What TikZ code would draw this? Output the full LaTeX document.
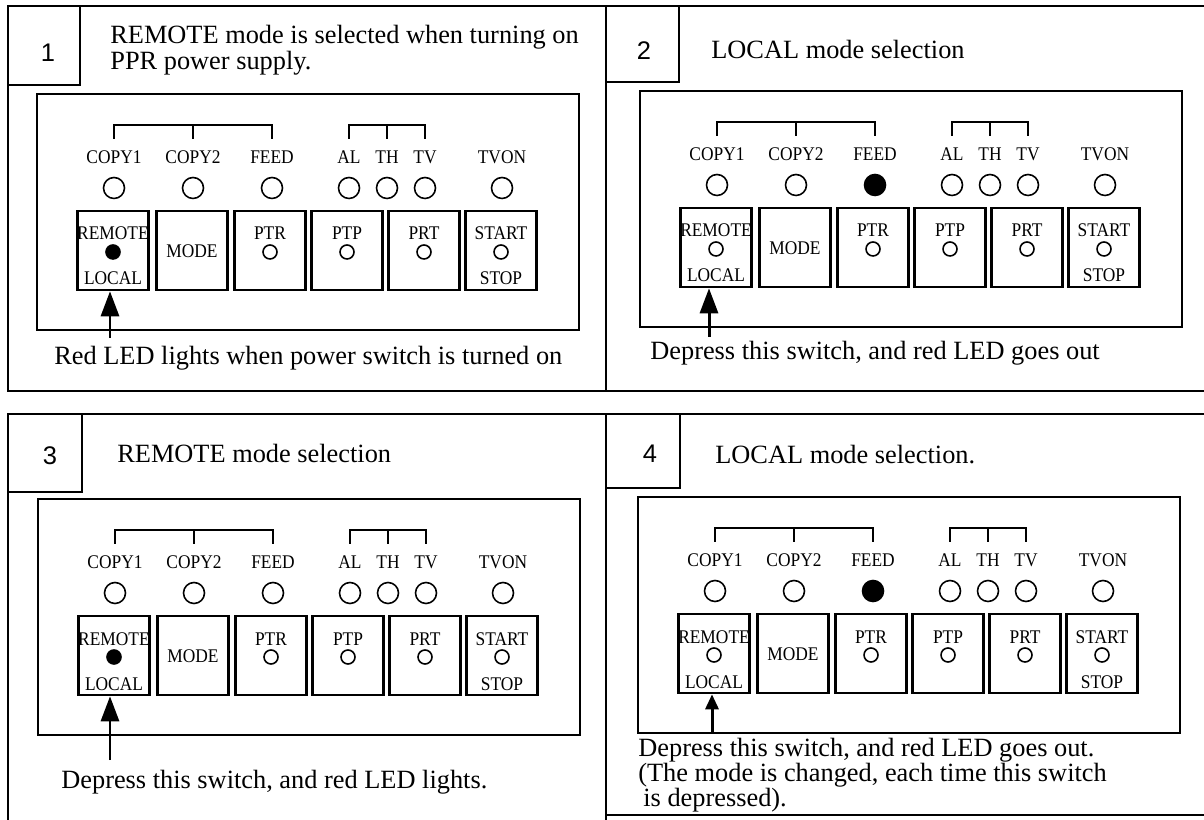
\documentclass[tikz,border=0pt]{standalone}
\usepackage{fontspec}
\setmainfont{Liberation Serif}
\newfontfamily\labfont{Liberation Serif}[FakeStretch=0.9]
\newfontfamily\numfont{Liberation Sans}
\usetikzlibrary{arrows.meta}

% one operator panel; #1 id, (#2,#3) top left corner, #4 REMOTE lamp, #5 FEED lamp
\newcommand{\ppanel}[5]{%
  \begin{scope}[shift={(#2,#3)}]
    % panel outline
    \draw[inbox] (0,0) rectangle (542,236);
    % lamp group brackets
    \draw[brack] (77,45) |- (235,31) -- (235,45);
    \draw[brack] (156,31) -- (156,45);
    \draw[brack] (312,45) |- (388,31) -- (388,45);
    \draw[brack] (350,31) -- (350,45);
    % lamp labels and lamps
    \foreach \px/\lbl in {77/COPY1,156/COPY2,235/FEED,312/AL,350/TH,388/TV,465/TVON}
      \node[lab] at (\px,70) {\lbl};
    \foreach \px in {77,156,312,350,388,465}
      \draw[lamp] (\px,94) circle[radius=0.21cm];
    \draw[lamp,#5] (235,94) circle[radius=0.21cm];
    % switches
    \node[swbox] (rem#1)   at (76,156.5)  {};
    \node[swbox] (mode#1)  at (155,156.5) {};
    \node[swbox] (ptr#1)   at (233,156.5) {};
    \node[swbox] (ptp#1)   at (310,156.5) {};
    \node[swbox] (prt#1)   at (387,156.5) {};
    \node[swbox] (start#1) at (464,156.5) {};
    % switch texts
    \node[lab] at (76,146) {REMOTE};
    \draw[lamp,#4] (76,158) circle[radius=0.14cm];
    \node[lab] at (76,191) {LOCAL};
    \node[lab] at (155,164) {MODE};
    \foreach \px/\lbl in {233/PTR,310/PTP,387/PRT,464/START} {
      \node[lab] at (\px,146) {\lbl};
      \draw[lamp] (\px,158) circle[radius=0.14cm];
    }
    \node[lab] at (464,191) {STOP};
  \end{scope}}

\begin{document}
\begin{tikzpicture}[x=0.02cm, y=-0.02cm,
    frame/.style={line width=1.6pt},
    inbox/.style={line width=1.1pt},
    brack/.style={line width=0.8pt},
    lamp/.style={line width=0.9pt},
    litlamp/.style={fill=black},
    darklamp/.style={fill=white},
    swbox/.style={draw, line width=1.5pt, minimum width=1.42cm, minimum height=1.58cm, inner sep=0pt},
    lab/.style={font=\labfont\fontsize{11}{11}\selectfont, inner sep=0pt, anchor=base},
    head/.style={font=\fontsize{15}{15}\selectfont, inner sep=0pt, anchor=base west},
    num/.style={font=\numfont\fontsize{14.5}{14.5}\selectfont, inner sep=0pt, anchor=base},
    ptr/.style={line width=1.7pt, -{Triangle[length=0.5cm, width=0.36cm]}},
    smallptr/.style={line width=1.7pt, -{Triangle[length=0.3cm, width=0.26cm]}}]
  \useasboundingbox (0,0) rectangle (1204,820);

  % Frames, upper row
  \draw[frame] (1204,6) -- (8,6) -- (8,391) -- (1204,391);
  \draw[frame] (606,6) -- (606,391);
  \draw[frame] (8,85) -| (80,6);
  \draw[frame] (606,82) -| (679,6);
  % Frames, lower row
  \draw[frame] (1204,414) -- (8,414) -- (8,820);
  \draw[frame] (606,414) -- (606,820);
  \draw[frame] (606,815) -- (1204,815);
  \draw[frame] (8,492) -| (82,414);
  \draw[frame] (606,488) -| (680,414);

  % Step numbers
  \node[num] (n1) at (48,62)  {1};
  \node[num] (n2) at (644,60) {2};
  \node[num] (n3) at (50,465) {3};
  \node[num] (n4) at (650,463) {4};

  % Step headings
  \node[head] (h1a) at (110,44) {REMOTE mode is selected when turning on};
  \node[head] (h1b) at (110,70) {PPR power supply.};
  \node[head] (h2) at (711,59) {LOCAL mode selection};
  \node[head] (h3) at (117,463) {REMOTE mode selection};
  \node[head] (h4) at (715,464) {LOCAL mode selection.};

  % Panels
  \ppanel{1}{37}{94}{litlamp}{darklamp}
  \ppanel{2}{640}{91}{darklamp}{litlamp}
  \ppanel{3}{38}{499}{litlamp}{darklamp}
  \ppanel{4}{638}{497}{darklamp}{litlamp}

  % Arrows to the REMOTE/LOCAL switch
  \coordinate (a1) at (110,338);
  \coordinate (a2) at (709,337);
  \coordinate (a3) at (110,760);
  \coordinate (a4) at (712,733);
  \draw[ptr] (a1) -- (rem1.south -| a1);
  \draw[ptr] (a2) -- (rem2.south -| a2);
  \draw[ptr] (a3) -- (rem3.south -| a3);
  \draw[smallptr] (a4) -- (rem4.south -| a4);

  % Captions
  \node[head] (c1) at (54,365) {Red LED lights when power switch is turned on};
  \node[head] (c2) at (650,360) {Depress this switch, and red LED goes out};
  \node[head] (c3) at (61,788) {Depress this switch, and red LED lights.};
  \node[head] (c4a) at (638,756) {Depress this switch, and red LED goes out.};
  \node[head] (c4b) at (638,781) {(The mode is changed, each time this switch};
  \node[head] (c4c) at (643,806) {is depressed).};
\end{tikzpicture}
\end{document}
